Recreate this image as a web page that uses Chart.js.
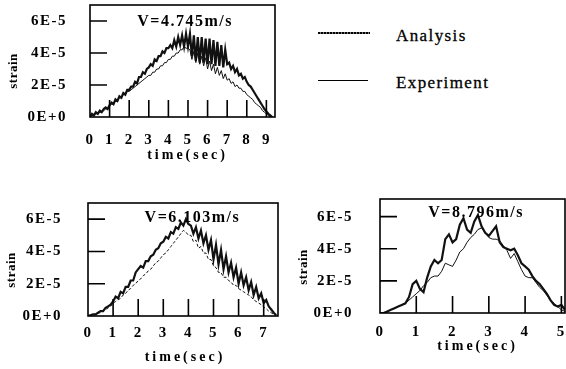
<!DOCTYPE html>
<html>
<head>
<meta charset="utf-8">
<script src="https://cdn.jsdelivr.net/npm/chart.js@4"></script>
<style>
body{margin:0;background:#fff;width:566px;height:369px;position:relative;overflow:hidden}
canvas{position:absolute}
.key{position:absolute;left:318px;width:52px}
.lbl{position:absolute;left:396px;font:17px "Liberation Serif",serif;line-height:17px;letter-spacing:1.4px;color:#000;-webkit-text-stroke:0.3px #000}
</style>
</head>
<body>
<canvas id="c1" width="285" height="170" style="left:0;top:0"></canvas>
<canvas id="c2" width="290" height="179" style="left:0;top:190px"></canvas>
<canvas id="c3" width="276" height="179" style="left:290px;top:190px"></canvas>
<div class="key" style="top:32px;height:2px;background:repeating-linear-gradient(90deg,#000 0 2px,#777 2px 3px)"></div>
<div class="lbl" style="top:27px">Analysis</div>
<div class="key" style="top:80px;width:50px;height:1px;background:#000"></div>
<div class="lbl" style="top:74px">Experiment</div>
<script>
// strain, in units of 1E-5
var yTicks = [0, 2, 4, 6];

// V = 4.745 m/s
var xTicks1 = [0, 1, 2, 3, 4, 5, 6, 7, 8, 9];
var t1 = [0,0.1,0.2,0.3,0.4,0.5,0.6,0.7,0.8,0.9,
  1,1.1,1.2,1.3,1.4,1.5,1.6,1.7,1.8,1.9,
  2,2.1,2.2,2.3,2.4,2.5,2.6,2.7,2.8,2.9,
  3,3.1,3.2,3.3,3.4,3.5,3.6,3.7,3.8,3.9,
  4,4.1,4.2,4.3,4.4,4.5,4.6,4.7,4.8,4.9,
  5,5.1,5.2,5.3,5.4,5.5,5.6,5.7,5.8,5.9,
  6,6.1,6.2,6.3,6.4,6.5,6.6,6.7,6.8,6.9,
  7,7.1,7.2,7.3,7.4,7.5,7.6,7.7,7.8,7.9,
  8,8.1,8.2,8.3,8.4,8.5,8.6,8.7,8.8,8.9,
  9,9.1,9.2,9.3];
var analysis1 = [0,0.2,0.1,0.3,0.2,0.4,0.3,0.5,0.6,0.5,0.75,
  0.9,0.8,1.1,1.0,1.3,1.2,1.5,1.4,1.7,1.7,
  1.9,1.9,2.2,2.1,2.5,2.5,2.8,2.7,3.0,3.1,
  3.3,3.2,3.6,3.5,3.8,3.8,4.1,4.0,4.3,4.3,
  4.5,4.3,4.8,4.4,5.0,4.5,5.1,4.4,5.2,4.4,
  5.2,3.8,5.1,3.5,5.0,3.4,5.0,3.4,4.9,3.3,
  4.9,3.3,4.8,3.2,4.7,3.2,4.5,3.1,4.2,3.3,
  3.4,3.0,3.2,2.8,3.0,2.6,2.7,2.4,2.5,2.2,
  2.0,1.9,1.7,1.5,1.3,1.1,0.9,0.7,0.5,0.35,
  0.2,0.1,0];
var experiment1 = [0,0.1,0.1,0.2,0.2,0.3,0.3,0.4,0.5,0.5,0.7,
  0.8,0.8,1.0,1.0,1.2,1.2,1.4,1.4,1.6,1.6,
  1.7,1.8,1.9,2.0,2.1,2.2,2.3,2.4,2.5,2.6,
  2.6,2.8,2.8,3.0,3.0,3.2,3.2,3.4,3.4,3.6,
  3.6,3.8,3.8,4.0,4.0,4.2,4.2,4.4,4.3,4.3,
  4.2,3.6,4.1,3.4,4.0,3.3,3.8,3.2,3.7,3.0,
  3.5,2.9,3.3,2.7,3.1,2.6,2.9,2.4,2.7,2.3,
  2.4,2.1,2.2,1.9,2.0,1.8,1.8,1.6,1.6,1.4,
  1.3,1.2,1.1,0.9,0.8,0.7,0.6,0.4,0.3,0.2,
  0.1,0,0];

// V = 6.103 m/s
var xTicks2 = [0, 1, 2, 3, 4, 5, 6, 7];
var t2 = [0,0.1,0.2,0.3,0.4,0.5,0.6,0.7,0.8,0.9,
  1,1.1,1.2,1.3,1.4,1.5,1.6,1.7,1.8,1.9,
  2,2.1,2.2,2.3,2.4,2.5,2.6,2.7,2.8,2.9,
  3,3.1,3.2,3.3,3.4,3.5,3.6,3.7,3.8,3.9,
  4,4.1,4.2,4.3,4.4,4.5,4.6,4.7,4.8,4.9,
  5,5.1,5.2,5.3,5.4,5.5,5.6,5.7,5.8,5.9,
  6,6.1,6.2,6.3,6.4,6.5,6.6,6.7,6.8,6.9,
  7,7.1,7.2,7.3,7.4,7.5];
var analysis2 = [0,0.05,0.1,0.1,0.2,0.3,0.3,0.5,0.6,0.7,0.9,
  1.2,1.1,1.5,1.4,1.8,1.8,2.2,2.2,2.7,2.9,
  3.1,3.0,3.4,3.4,3.7,3.8,4.1,4.2,4.5,4.6,
  4.9,4.8,5.2,5.1,5.5,5.4,5.8,5.6,6.0,5.7,
  5.6,5.1,5.5,4.8,5.3,4.5,5.0,4.1,4.7,3.5,
  4.4,3.2,4.1,2.9,3.7,2.7,3.3,2.4,3.0,2.0,
  2.7,1.9,2.4,1.6,2.1,1.3,1.8,1.1,1.4,0.8,
  1.0,0.6,0.4,0.2,0.05];
var experiment2 = [0,0.05,0.1,0.1,0.2,0.2,0.3,0.4,0.5,0.6,0.8,
  0.9,1.0,1.1,1.3,1.4,1.6,1.7,1.9,2.0,2.2,
  2.3,2.5,2.6,2.8,2.9,3.1,3.3,3.4,3.6,3.8,
  3.9,4.1,4.3,4.5,4.7,4.9,5.1,5.3,5.2,5.0,
  5.0,4.6,4.7,4.2,4.3,3.9,3.9,3.5,3.5,3.1,
  3.0,2.7,2.7,2.4,2.4,2.2,2.1,1.9,1.9,1.7,
  1.6,1.5,1.4,1.3,1.2,1.0,0.9,0.8,0.7,0.55,
  0.45,0.3,0.2,0.1,0];

// V = 8.796 m/s
var xTicks3 = [0, 1, 2, 3, 4, 5];
var t3 = [0,0.1,0.2,0.3,0.4,0.5,0.6,0.7,0.8,0.9,
  1,1.1,1.2,1.3,1.4,1.5,1.6,1.7,1.8,1.9,
  2,2.1,2.2,2.3,2.4,2.5,2.6,2.7,2.8,2.9,
  3,3.1,3.2,3.3,3.4,3.5,3.6,3.7,3.8,3.9,
  4,4.1,4.2,4.3,4.4,4.5,4.6,4.7,4.8,4.9,
  5,5.1];
var analysis3 = [0,0,0.1,0.2,0.3,0.4,0.5,0.6,1.0,1.8,2.0,
  1.5,1.3,2.2,2.9,3.3,3.1,3.3,4.6,4.9,4.4,
  4.6,5.5,5.9,5.2,5.0,5.7,6.1,5.4,5.0,4.8,
  5.1,5.4,4.4,4.1,4.0,3.9,4.0,3.6,3.1,2.9,
  2.7,2.3,2.0,1.8,1.5,1.2,0.8,0.5,0.4,0.5,
  0.2];
var experiment3 = [0,0,0.1,0.2,0.3,0.4,0.5,0.6,0.8,1.0,1.2,
  1.4,1.7,1.9,2.2,2.3,2.3,2.6,3.1,3.0,2.9,
  3.3,3.8,4.0,4.4,4.7,4.9,5.2,5.3,5.0,4.7,
  4.6,4.6,4.5,4.2,3.9,3.4,3.7,3.2,2.7,2.3,
  2.2,2.2,1.9,1.6,1.4,1.1,0.8,0.6,0.4,0.2,
  0.1];

var ink = '#111';
var tickFont = {family: '"Liberation Serif", serif', weight: 'bold', size: 15};

function pts(t, v) {
  return t.map(function (x, i) { return {x: x, y: v[i]}; });
}

// box, inward tick marks, speed label and axis titles
var frame = {
  id: 'frame',
  beforeDraw: function (chart) { chart.ctx.letterSpacing = '1.5px'; },
  afterDatasetsDraw: function (chart, args, o) {
    var ctx = chart.ctx, a = chart.chartArea, xs = chart.scales.x, ys = chart.scales.y;
    ctx.save();
    ctx.strokeStyle = '#000';
    ctx.lineWidth = 1.6;
    ctx.strokeRect(a.left, a.top, a.right - a.left, a.bottom - a.top);
    ctx.beginPath();
    ys.ticks.forEach(function (tk) {
      if (tk.value <= 0) return;
      var y = ys.getPixelForValue(tk.value);
      ctx.moveTo(a.left, y); ctx.lineTo(a.left + 17, y);
    });
    xs.ticks.forEach(function (tk) {
      if (tk.value <= 0) return;
      var x = xs.getPixelForValue(tk.value);
      ctx.moveTo(x, a.bottom); ctx.lineTo(x, a.bottom - 17);
    });
    ctx.stroke();

    ctx.fillStyle = '#000';
    ctx.textAlign = 'center';
    ctx.textBaseline = 'alphabetic';
    ctx.letterSpacing = '1.5px';
    ctx.font = 'bold 16px "Liberation Serif"';
    ctx.fillText(o.speed, xs.getPixelForValue(o.speedAt), a.top + o.speedDy);

    ctx.letterSpacing = '3px';
    ctx.font = 'bold 14px "Liberation Serif"';
    ctx.textBaseline = 'middle';
    ctx.fillText('time(sec)', (a.left + a.right) / 2 + o.titleDx, a.bottom + o.titleDy);

    ctx.translate(a.left - 76, a.bottom - 46);
    ctx.rotate(-Math.PI / 2);
    ctx.letterSpacing = '0.5px';
    ctx.font = 'bold 13px "Liberation Serif"';
    ctx.fillText('strain', 0, 0);
    ctx.restore();
  }
};

function make(id, t, an, ex, xTicks, xMax, yMax, opt) {
  return new Chart(document.getElementById(id), {
    type: 'line',
    data: {
      datasets: [
        {label: 'Analysis', data: pts(t, an), borderColor: ink, borderWidth: 2.2},
        {label: 'Experiment', data: pts(t, ex), borderColor: ink, borderWidth: 1, borderDash: opt.dash || []}
      ]
    },
    options: {
      responsive: false,
      animation: false,
      layout: {padding: opt.pad},
      elements: {point: {radius: 0}, line: {tension: 0}},
      plugins: {legend: {display: false}, tooltip: {enabled: false}, frame: opt},
      scales: {
        x: {
          type: 'linear', min: 0, max: xMax,
          afterFit: function (s) { s.height = opt.xh; s.paddingLeft = 0; s.paddingRight = 0; },
          afterBuildTicks: function (s) { s.ticks = xTicks.map(function (v) { return {value: v}; }); },
          grid: {display: false}, border: {display: false},
          ticks: {padding: opt.tickPad, color: '#000', font: tickFont, maxRotation: 0, autoSkip: false}
        },
        y: {
          min: 0, max: yMax,
          afterFit: function (s) { s.width = opt.yw; s.paddingTop = 0; s.paddingBottom = 0; },
          afterBuildTicks: function (s) { s.ticks = yTicks.map(function (v) { return {value: v}; }); },
          grid: {display: false}, border: {display: false},
          ticks: {
            padding: opt.yPad, color: '#000', font: tickFont,
            callback: function (v) { return v === 0 ? '0E+0' : v + 'E-5'; }
          }
        }
      }
    },
    plugins: [frame]
  });
}

make('c1', t1, analysis1, experiment1, xTicks1, 9.44, 7, {
  speed: 'V=4.745m/s', speedAt: 4.85, speedDy: 21, titleDx: 5, titleDy: 38,
  pad: {top: 5, right: 10, left: 0, bottom: 0}, xh: 53, yw: 90, tickPad: 6, yPad: 15
});
make('c2', t2, analysis2, experiment2, xTicks2, 7.57, 7, {
  speed: 'V=6.103m/s', speedAt: 4.16, speedDy: 19, titleDx: 2, titleDy: 41,
  pad: {top: 13, right: 12, left: 0, bottom: 0}, xh: 53, yw: 88, tickPad: 0, yPad: 18,
  dash: [3, 2]
});
make('c3', t3, analysis3, experiment3, xTicks3, 5.1, 7.1, {
  speed: 'V=8.796m/s', speedAt: 2.65, speedDy: 18, titleDx: 5, titleDy: 33,
  pad: {top: 9, right: 1, left: 0, bottom: 0}, xh: 56, yw: 90, tickPad: 2, yPad: 19
});
</script>
</body>
</html>
